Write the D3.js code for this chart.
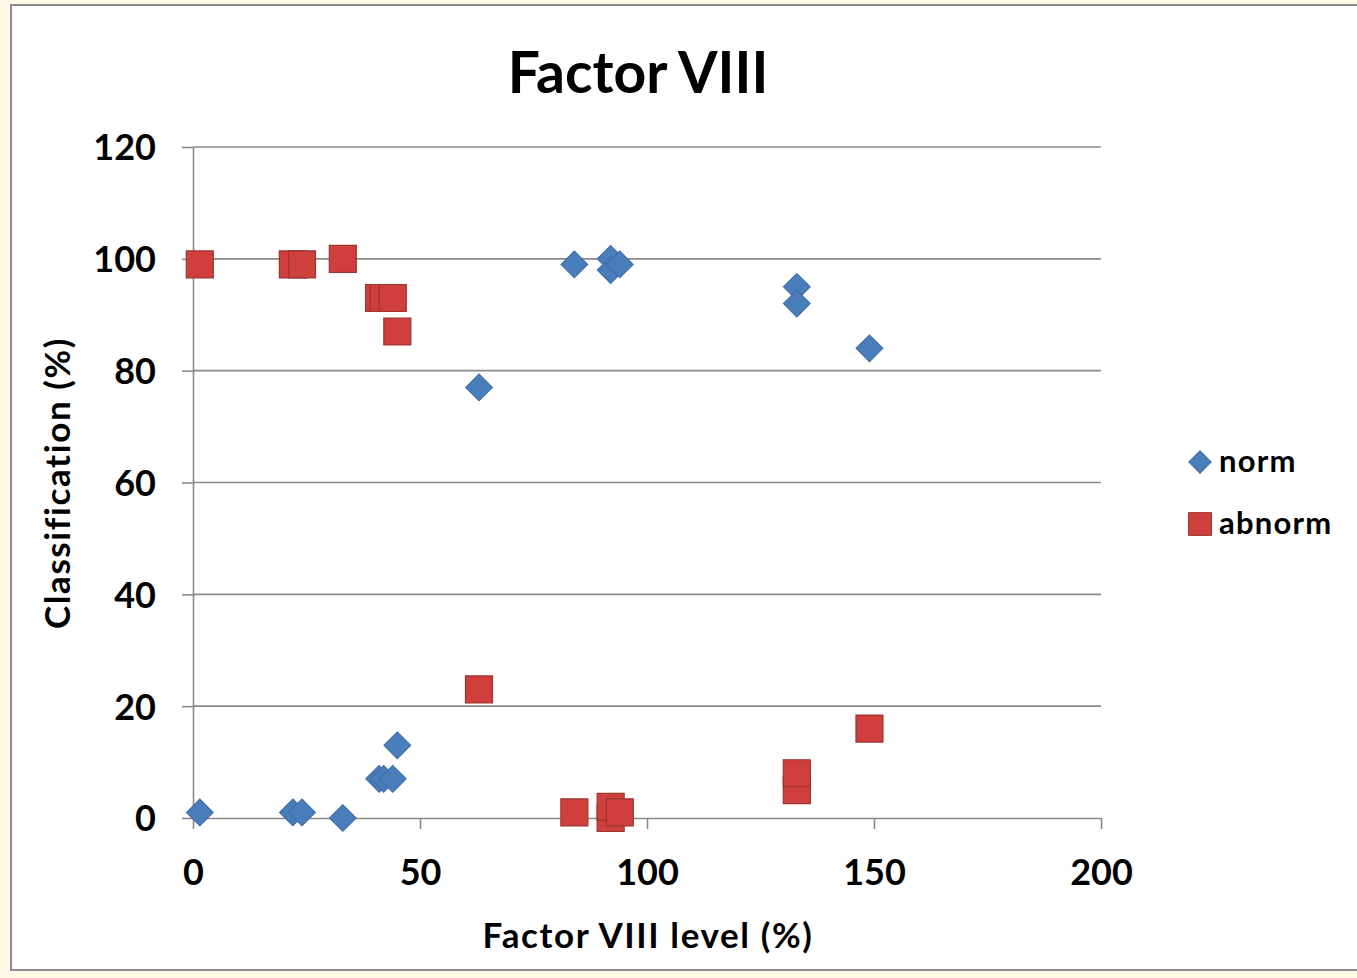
<!DOCTYPE html>
<html>
<head>
<meta charset="utf-8">
<script src="https://cdn.jsdelivr.net/npm/d3@7"></script>
<style>
  html, body { margin: 0; padding: 0; background: #fefce8; }
  svg { display: block; }
  text { font-family: Lato, "Open Sans", sans-serif; fill: #000; }
</style>
</head>
<body>
<script>
// Factor VIII level (%) for each sample
const factorLevel = [1.5, 22, 24, 33, 41, 42, 44, 45, 63, 84, 92, 92, 94, 133, 133, 149];
// Classification (%) as normal
const normValues   = [1, 1, 1, 0, 7, 7, 7, 13, 77, 99, 100, 98, 99, 95, 92, 84];
// Classification (%) as abnormal
const abnormValues = [99, 99, 99, 100, 93, 93, 93, 87, 23, 1, 0, 2, 1, 5, 8, 16];

const xTicks = [0, 50, 100, 150, 200];
const yTicks = [0, 20, 40, 60, 80, 100, 120];
const seriesNames = ["norm", "abnorm"];

const W = 1357, H = 978;
const plot = { left: 193, right: 1101, top: 147, bottom: 818 };

const svg = d3.select("body").append("svg")
  .attr("width", W).attr("height", H);

// chart area with its frame
svg.append("rect")
  .attr("x", 11).attr("y", 5)
  .attr("width", W + 20).attr("height", 965)
  .attr("fill", "#ffffff")
  .attr("stroke", "#8c8c8c").attr("stroke-width", 2);

const x = d3.scaleLinear().domain([0, 200]).range([plot.left, plot.right]);
const y = d3.scaleLinear().domain([0, 120]).range([plot.bottom, plot.top]);

// horizontal gridlines
svg.append("g")
  .selectAll("line")
  .data(yTicks.filter(t => t > 0))
  .join("line")
  .attr("x1", plot.left).attr("x2", plot.right)
  .attr("y1", d => y(d)).attr("y2", d => y(d))
  .attr("stroke", "#8a8a8a").attr("stroke-width", 1.6);

// y axis
const yAxis = svg.append("g")
  .attr("transform", `translate(${plot.left},0)`)
  .call(d3.axisLeft(y).tickValues(yTicks).tickSize(11).tickPadding(26).tickSizeOuter(0));
yAxis.select(".domain").attr("stroke", "#8a8a8a").attr("stroke-width", 1.6);
yAxis.selectAll(".tick line").attr("stroke", "#8a8a8a").attr("stroke-width", 1.6);
yAxis.selectAll(".tick text")
  .attr("font-family", "Lato, sans-serif")
  .attr("font-size", 36).attr("font-weight", 700).attr("fill", "#000")
  .attr("dy", "0.36em");

// x axis
const xAxis = svg.append("g")
  .attr("transform", `translate(0,${plot.bottom})`)
  .call(d3.axisBottom(x).tickValues(xTicks).tickSize(11).tickPadding(30).tickSizeOuter(0));
xAxis.select(".domain").attr("stroke", "#8a8a8a").attr("stroke-width", 1.6);
xAxis.selectAll(".tick line").attr("stroke", "#8a8a8a").attr("stroke-width", 1.6);
xAxis.selectAll(".tick text")
  .attr("font-family", "Lato, sans-serif")
  .attr("font-size", 36).attr("font-weight", 700).attr("fill", "#000");

// title and axis titles
svg.append("text")
  .attr("x", 638).attr("y", 93)
  .attr("text-anchor", "middle")
  .attr("font-size", 57).attr("font-weight", 700)
  .text("Factor VIII");

svg.append("text")
  .attr("x", 648).attr("y", 948)
  .attr("text-anchor", "middle")
  .attr("font-size", 35).attr("font-weight", 700)
  .attr("letter-spacing", 1.6)
  .text("Factor VIII level (%)");

svg.append("text")
  .attr("transform", "translate(70,483) rotate(-90)")
  .attr("text-anchor", "middle")
  .attr("font-size", 35).attr("font-weight", 700)
  .attr("letter-spacing", 1.6)
  .text("Classification (%)");

// markers
const diamond = d3.symbol().type(d3.symbolSquare).size(360);
const square = d3.symbol().type(d3.symbolSquare).size(729);

const blueFill = "#4a7ebb", blueStroke = "#3b6aa6";
const redFill = "#cf3f3b", redStroke = "#9a3532";

const points = factorLevel.map((f, i) => ({ f, norm: normValues[i], abnorm: abnormValues[i] }));

svg.append("g")
  .selectAll("path")
  .data(points)
  .join("path")
  .attr("d", diamond)
  .attr("transform", d => `translate(${x(d.f)},${y(d.norm)}) rotate(45)`)
  .attr("fill", blueFill).attr("stroke", blueStroke).attr("stroke-width", 1);

svg.append("g")
  .selectAll("path")
  .data(points)
  .join("path")
  .attr("d", square)
  .attr("transform", d => `translate(${x(d.f)},${y(d.abnorm)})`)
  .attr("fill", redFill).attr("stroke", redStroke).attr("stroke-width", 1.2);

// legend
const legend = svg.append("g");
const legendRows = [
  { name: seriesNames[0], cy: 462, sym: d3.symbol().type(d3.symbolSquare).size(250), rot: 45, fill: blueFill, stroke: blueStroke },
  { name: seriesNames[1], cy: 524, sym: d3.symbol().type(d3.symbolSquare).size(520), rot: 0, fill: redFill, stroke: redStroke }
];
legend.selectAll("path")
  .data(legendRows)
  .join("path")
  .attr("d", d => d.sym())
  .attr("transform", d => `translate(1200,${d.cy}) rotate(${d.rot})`)
  .attr("fill", d => d.fill).attr("stroke", d => d.stroke);
legend.selectAll("text")
  .data(legendRows)
  .join("text")
  .attr("x", 1219).attr("y", d => d.cy + 10)
  .attr("font-size", 31).attr("font-weight", 700)
  .attr("letter-spacing", 1.2)
  .text(d => d.name);
</script>
</body>
</html>
